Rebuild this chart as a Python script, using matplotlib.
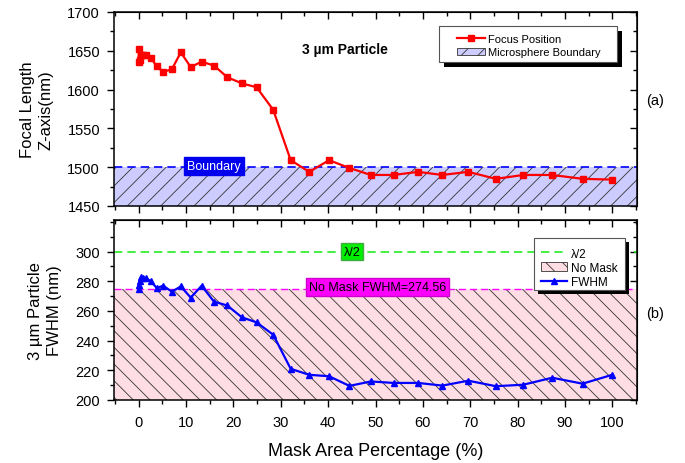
import matplotlib
matplotlib.use("Agg")
import matplotlib.pyplot as plt
from matplotlib.ticker import MultipleLocator, FixedLocator
from matplotlib.patches import Rectangle, Patch
from matplotlib.lines import Line2D

plt.rcParams['font.family'] = ['Liberation Sans', 'DejaVu Sans']
plt.rcParams['hatch.linewidth'] = 0.6

# ---- data ----
mask_pct = [0, 0.05, 0.2, 0.5, 1.0, 1.5, 2.6, 3.8, 5.2, 7.0, 8.9, 11.0, 13.3, 15.9,
            18.7, 21.8, 24.9, 28.4, 32.1, 36.0, 40.2, 44.5, 49.0, 53.8, 59.0, 64.1,
            69.6, 75.4, 81.2, 87.3, 93.7, 100]
focus_pos = [1635, 1652, 1638, 1644, 1644, 1644, 1641, 1630, 1623, 1626, 1648, 1629,
             1636, 1631, 1616, 1608, 1603, 1574, 1509, 1494, 1509, 1499, 1490, 1490,
             1494, 1490, 1494, 1485, 1490, 1490, 1485, 1484]
fwhm = [275, 277.5, 280, 283, 282.5, 282, 280, 275.5, 277, 273, 276.5, 269, 277,
        266.3, 263.7, 255.7, 252.3, 244, 221, 217, 216, 209.5, 212.5, 211.5, 211.5,
        209.7, 213, 209.3, 210.3, 215, 211, 217]
boundary = 1500
no_mask_fwhm = 274.56
half_lambda = 300
x_ticks = [0, 10, 20, 30, 40, 50, 60, 70, 80, 90, 100]
top_yticks = [1450, 1500, 1550, 1600, 1650, 1700]
bot_yticks = [200, 220, 240, 260, 280, 300]

W, H = 685, 464
fig = plt.figure(figsize=(W / 100, H / 100), dpi=100)

def fr(l, t, r, b):
    return [l / W, 1 - b / H, (r - l) / W, (b - t) / H]

ax1 = fig.add_axes(fr(114, 13, 637, 207))
ax2 = fig.add_axes(fr(114, 221, 637, 401))

XL = (-5.2, 105.2)

def style(ax, yticks, ymin, labelx):
    ax.set_xlim(*XL)
    ax.set_xticks(x_ticks)
    ax.xaxis.set_minor_locator(MultipleLocator(5))
    ax.yaxis.set_major_locator(FixedLocator(yticks))
    ax.yaxis.set_minor_locator(MultipleLocator(ymin))
    ax.tick_params(which='major', direction='out', length=5, width=1, labelsize=10.5, pad=5)
    ax.tick_params(which='minor', direction='out', length=2.7, width=1)
    ax.tick_params(axis='x', labelbottom=labelx, pad=6)
    for s in ax.spines.values():
        s.set_linewidth(1.1)
    sx = ax.secondary_xaxis('top')
    sx.set_xticks(x_ticks)
    sx.xaxis.set_minor_locator(MultipleLocator(5))
    sx.tick_params(which='major', direction='in', length=5, width=1, labeltop=False)
    sx.tick_params(which='minor', direction='in', length=2.7, width=1)
    sy = ax.secondary_yaxis('right')
    sy.yaxis.set_major_locator(FixedLocator(yticks))
    sy.yaxis.set_minor_locator(MultipleLocator(ymin))
    sy.tick_params(which='major', direction='in', length=5, width=1, labelright=False)
    sy.tick_params(which='minor', direction='in', length=2.7, width=1)

# ---- top panel ----
ax1.set_ylim(1450, 1700)
ax1.fill_between(XL, 1450, boundary, facecolor='#ccccff', edgecolor='#333333',
                 hatch='//', linewidth=0, zorder=1)
ax1.axhline(boundary, color='#0000ff', ls=(0, (5, 3)), lw=1.2, zorder=2)
ax1.plot(mask_pct, focus_pos, color='#ff0000', lw=1.6, marker='s', ms=4.2, zorder=3)
ax1.text(15.9, 1501.5, 'Boundary', color='white', fontsize=9, ha='center', va='center',
         bbox=dict(boxstyle='square,pad=0.25', fc='#0000ee', ec='#0000ee'), zorder=4)
ax1.text(43.6, 1652, '3 µm Particle', fontsize=10, fontweight='bold', ha='center', va='center')
ax1.set_ylabel('Focal Length\nZ-axis(nm)', fontsize=12, labelpad=10, linespacing=1.3)
style(ax1, top_yticks, 25, False)

# ---- bottom panel ----
ax2.set_ylim(200, 321.3)
ax2.fill_between(XL, 200, no_mask_fwhm, facecolor='#ffdde5', edgecolor='#333333',
                 hatch='\\\\', linewidth=0, zorder=1)
ax2.axhline(no_mask_fwhm, color='#ff00ff', ls=(0, (5, 3)), lw=1.0, zorder=2)
ax2.axhline(half_lambda, color='#22ee22', ls=(0, (5, 3)), lw=1.2, zorder=2)
ax2.plot(mask_pct, fwhm, color='#0000ff', lw=1.6, marker='^', ms=4.2, zorder=3)
ax2.text(45, 300, 'λ/2', fontsize=9, ha='center', va='center',
         bbox=dict(boxstyle='square,pad=0.2', fc='#00ee00', ec='#44aa44'), zorder=4)
ax2.text(50.4, 276, 'No Mask FWHM=274.56', fontsize=9, ha='center', va='center',
         bbox=dict(boxstyle='square,pad=0.25', fc='#ff00ff', ec='#cc00cc'), zorder=4)
ax2.set_ylabel('3 µm Particle\nFWHM (nm)', fontsize=12, labelpad=10, linespacing=1.3)
ax2.set_xlabel('Mask Area Percentage (%)', fontsize=13, labelpad=9)
style(ax2, bot_yticks, 10, True)

# ---- legends: custom frame + black drop shadow, frameless legend inside ----
def legend_box(l, t, r, b, dx=5, dy=5):
    fig.patches.append(Rectangle((l + dx, H - b - dy), r - l, b - t, transform=None,
                                 facecolor='black', edgecolor='none', zorder=10))
    fig.patches.append(Rectangle((l, H - b), r - l, b - t, transform=None,
                                 facecolor='white', edgecolor='#555555', lw=0.8, zorder=11))

legend_box(439, 27, 617, 63)
legend_box(534, 239, 625, 291, 4, 4)

h1 = [Line2D([], [], color='#ff0000', lw=1.6, marker='s', ms=4.2),
      Patch(facecolor='#ccccff', edgecolor='#333333', hatch='//', linewidth=0.6)]
leg1 = fig.legend(h1, ['Focus Position', 'Microsphere Boundary'], loc='upper left',
                  bbox_to_anchor=(457 / W, 1 - 35 / H), bbox_transform=fig.transFigure,
                  fontsize=8, frameon=False, borderpad=0, labelspacing=0.3,
                  handlelength=2.5, handletextpad=0.25, borderaxespad=0)
leg1.set_zorder(12)

h2 = [Line2D([], [], color='#22ee22', lw=1.2, ls=(0, (5, 3))),
      Patch(facecolor='#ffdde5', edgecolor='#333333', hatch='\\\\', linewidth=0.6),
      Line2D([], [], color='#0000ff', lw=1.6, marker='^', ms=4.2)]
leg2 = fig.legend(h2, ['λ/2', 'No Mask', 'FWHM'], loc='upper left',
                  bbox_to_anchor=(541 / W, 1 - 248.5 / H), bbox_transform=fig.transFigure,
                  fontsize=8.5, frameon=False, borderpad=0, labelspacing=0.18,
                  handlelength=2.2, handletextpad=0.3, borderaxespad=0)
leg2.set_zorder(12)

fig.text(655 / W, 1 - 101 / H, '(a)', fontsize=10.5, ha='center', va='center')
fig.text(655 / W, 1 - 314 / H, '(b)', fontsize=10.5, ha='center', va='center')

fig.savefig('out.png', dpi=100)
